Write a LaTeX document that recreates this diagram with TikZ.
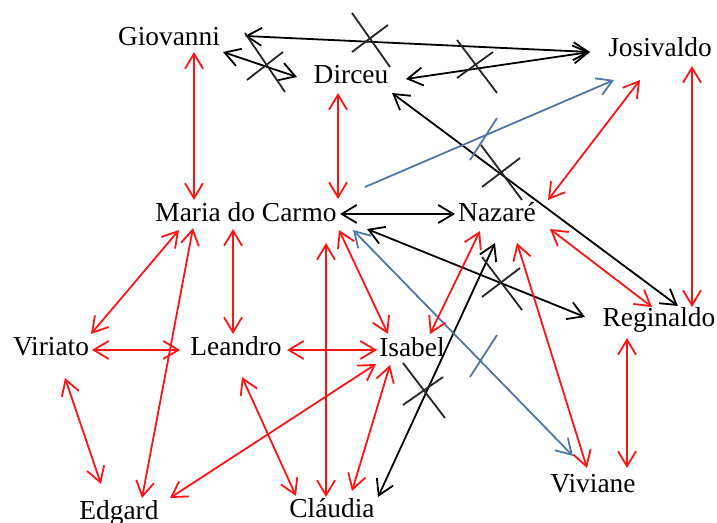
\documentclass[tikz,border=0pt]{standalone}
\usepackage{fontspec}
\setmainfont{Liberation Serif}
\usetikzlibrary{arrows.meta,calc}
\definecolor{redl}{RGB}{255,20,20}
\definecolor{bluel}{RGB}{79,120,170}
\newcommand\lnk[5]{\draw[#1] ($(#2)+#3$) -- ($(#4)+#5$);}
\begin{document}
\begin{tikzpicture}[x=0.5pt,y=-0.5pt,
  lbl/.style={anchor=base,inner sep=0pt,font=\fontsize{13.7}{16}\selectfont},
  tip/.tip={Straight Barb[length=7.5pt,width=9pt,line width=0.9pt]},
  bk/.style={line width=0.9pt,black,tip-tip},
  rr/.style={line width=0.9pt,redl,tip-tip},
  bl/.style={line width=0.9pt,bluel,tip-tip},
  blone/.style={line width=0.9pt,bluel,-tip},
  xm/.style={line width=0.9pt,black!85},
  tk/.style={line width=0.9pt,bluel}]
\useasboundingbox (0,0) rectangle (717,523);
% nodes
\node[lbl] (gio) at (169,46) {Giovanni};
\node[lbl] (dir) at (351,84) {Dirceu};
\node[lbl] (jos) at (660,57) {Josivaldo};
\node[lbl] (mar) at (246,222) {Maria do Carmo};
\node[lbl] (naz) at (497,222) {Nazaré};
\node[lbl] (vir) at (51,356) {Viriato};
\node[lbl] (lea) at (236,356) {Leandro};
\node[lbl] (isa) at (412,357) {Isabel};
\node[lbl] (reg) at (659,327) {Reginaldo};
\node[lbl] (edg) at (119,519) {Edgard};
\node[lbl] (cla) at (332,517) {Cláudia};
\node[lbl] (viv) at (593,492) {Viviane};
% black links
\lnk{bk}{gio.base}{(76,-10)}{jos.base}{(-70,-5)}
\lnk{bk}{gio.base}{(54,6)}{dir.base}{(-54,-7)}
\lnk{bk}{dir.base}{(55,-5)}{jos.base}{(-70,-5)}
\lnk{bk}{dir.base}{(41,9)}{reg.base}{(19,-21)}
\lnk{bk}{mar.base}{(94,-8)}{naz.base}{(-42,-8)}
\lnk{bk}{mar.base}{(121,7)}{reg.base}{(-74,-10)}
\lnk{bk}{cla.base}{(46,-20)}{naz.base}{(-2,21)}
% blue links
\lnk{blone}{mar.base}{(119,-35)}{jos.base}{(-46,23)}
\lnk{bl}{mar.base}{(107,8)}{viv.base}{(-20,-36)}
% red links
\lnk{rr}{gio.base}{(25,6)}{mar.base}{(-52,-22)}
\lnk{rr}{dir.base}{(-13,9)}{mar.base}{(92,-23)}
\lnk{rr}{jos.base}{(32,9)}{reg.base}{(33,-20)}
\lnk{rr}{jos.base}{(-20,23)}{naz.base}{(51,-22)}
\lnk{rr}{mar.base}{(-67,8)}{vir.base}{(40,-22)}
\lnk{rr}{mar.base}{(-53,6)}{edg.base}{(23,-21)}
\lnk{rr}{mar.base}{(-13,7)}{lea.base}{(-3,-22)}
\lnk{rr}{mar.base}{(93,8)}{isa.base}{(-24,-23)}
\lnk{rr}{cla.base}{(-6,-20)}{mar.base}{(80,21)}
\lnk{rr}{vir.base}{(41,-6)}{lea.base}{(-56,-6)}
\lnk{rr}{lea.base}{(51,-6)}{isa.base}{(-35,-7)}
\lnk{rr}{vir.base}{(14,22)}{edg.base}{(-18,-35)}
\lnk{rr}{lea.base}{(6,21)}{cla.base}{(-36,-21)}
\lnk{rr}{isa.base}{(-36,7)}{edg.base}{(51,-21)}
\lnk{rr}{isa.base}{(-22,8)}{cla.base}{(20,-26)}
\lnk{rr}{naz.base}{(-17,9)}{isa.base}{(18,-23)}
\lnk{rr}{naz.base}{(20,21)}{viv.base}{(-6,-24)}
\lnk{rr}{naz.base}{(53,7)}{reg.base}{(-7,-20)}
\lnk{rr}{reg.base}{(-32,11)}{viv.base}{(34,-24)}
% cross marks
\draw[xm] (352,13) -- (390,67) (352,52) -- (388,25);
\draw[xm] (245,33) -- (285,92) (247,80) -- (283,52);
\draw[xm] (457,40) -- (497,93) (457,78) -- (493,52);
\draw[xm] (481,145) -- (522,200) (482,187) -- (520,158);
\draw[xm] (482,297) -- (520,268) (482,257) -- (522,310);
\draw[xm] (403,363) -- (445,418) (403,405) -- (443,377);
\draw[tk] (497,118) -- (470,160);
\draw[tk] (497,335) -- (470,377);
\end{tikzpicture}
\end{document}
